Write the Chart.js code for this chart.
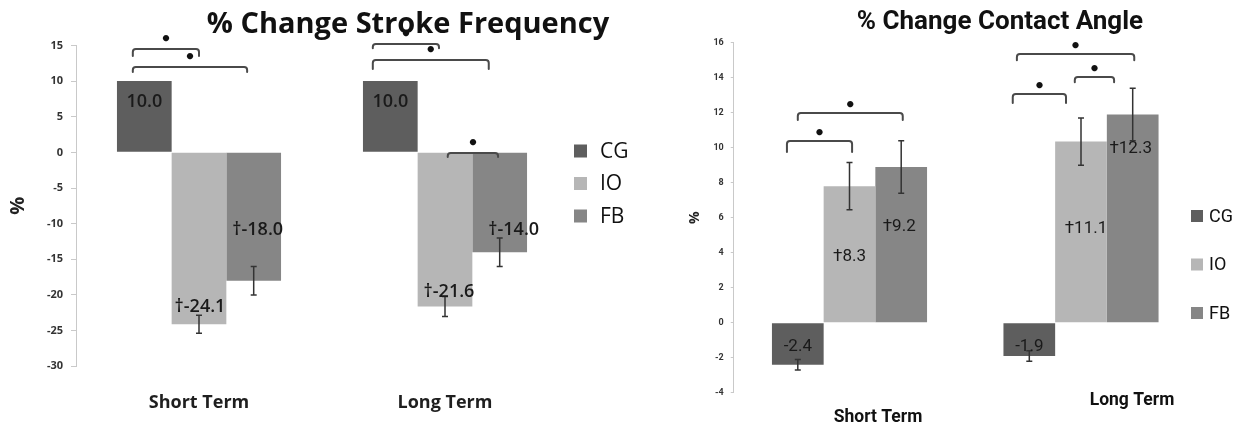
<!DOCTYPE html>
<html>
<head>
<meta charset="utf-8">
<title>% Change Stroke Frequency / % Change Contact Angle</title>
<script src="https://cdn.jsdelivr.net/npm/chart.js@4.4.1/dist/chart.umd.min.js"></script>
<style>
  html, body { margin: 0; padding: 0; background: #fff; }
  #wrap { position: relative; width: 1249px; height: 432px; overflow: hidden; }
  canvas { position: absolute; top: 0; }
  #strokeChart { left: 0; }
  #angleChart { left: 650px; }
</style>
</head>
<body>
<div id="wrap">
  <canvas id="strokeChart" width="650" height="432"></canvas>
  <canvas id="angleChart" width="599" height="432"></canvas>
</div>
<script>
var categories = ['Short Term', 'Long Term'];
var groups = ['CG', 'IO', 'FB'];
var groupColors = ['#5e5e5e', '#b6b6b6', '#868686'];

// % change stroke frequency
var strokeCG = [10.0, 10.0];
var strokeIO = [-24.1, -21.6];
var strokeFB = [-18.0, -14.0];
var strokeErrCG = [null, null];
var strokeErrIO = [1.25, 1.4];
var strokeErrFB = [2.0, 2.0];
var strokeTextCG = ['10.0', '10.0'];
var strokeTextIO = ['\u2020-24.1', '\u2020-21.6'];
var strokeTextFB = ['\u2020-18.0', '\u2020-14.0'];
// significant pairs: [category, group a, group b]
var strokeSig = [[0, 0, 1], [0, 0, 2], [1, 0, 1], [1, 0, 2], [1, 1, 2]];

// % change contact angle
var angleCG = [-2.4, -1.9];
var angleIO = [7.8, 10.35];
var angleFB = [8.9, 11.9];
var angleErrCG = [0.3, 0.3];
var angleErrIO = [1.35, 1.35];
var angleErrFB = [1.5, 1.5];
var angleTextCG = ['-2.4', '-1.9'];
var angleTextIO = ['\u20208.3', '\u202011.1'];
var angleTextFB = ['\u20209.2', '\u202012.3'];
var angleSig = [[0, 0, 1], [0, 0, 2], [1, 0, 1], [1, 1, 2], [1, 0, 2]];

Chart.defaults.font.family = "'Open Sans', sans-serif";

// draws error bars, value labels, significance brackets, title, legend
function makeDecorations(cfg) {
  return {
    id: 'decorations',
    afterDatasetsDraw: function (chart) {
      var ctx = chart.ctx;
      var y = chart.scales.y;
      ctx.save();

      // error bars
      ctx.strokeStyle = '#333';
      ctx.lineWidth = 1.5;
      chart.data.datasets.forEach(function (ds, i) {
        chart.getDatasetMeta(i).data.forEach(function (bar, j) {
          var err = ds.errors[j];
          if (err == null) return;
          var hi = y.getPixelForValue(ds.data[j] + err);
          var lo = y.getPixelForValue(ds.data[j] - err);
          ctx.beginPath();
          ctx.moveTo(bar.x, hi); ctx.lineTo(bar.x, lo);
          ctx.moveTo(bar.x - 3, hi); ctx.lineTo(bar.x + 3, hi);
          ctx.moveTo(bar.x - 3, lo); ctx.lineTo(bar.x + 3, lo);
          ctx.stroke();
        });
      });

      // value labels
      ctx.font = cfg.valueFont;
      ctx.fillStyle = '#1a1a1a';
      ctx.textAlign = 'center';
      ctx.textBaseline = 'middle';
      chart.data.datasets.forEach(function (ds, i) {
        chart.getDatasetMeta(i).data.forEach(function (bar, j) {
          ctx.fillText(ds.texts[j], bar.x + cfg.labelDx[i][j], y.getPixelForValue(cfg.labelAt[i][j]));
        });
      });

      // significance brackets
      var mid = chart.getDatasetMeta(1);
      ctx.strokeStyle = '#4a4a4a';
      ctx.lineWidth = 2;
      ctx.lineJoin = 'round';
      ctx.lineCap = 'round';
      cfg.sig.forEach(function (s, k) {
        var b = cfg.brackets[k];
        var bar = mid.data[s[0]];
        var x0 = bar.x + (b[0] - 1) * bar.width;
        var x1 = bar.x + (b[1] - 1) * bar.width;
        var top = y.getPixelForValue(b[2]);
        var end = y.getPixelForValue(b[2] - b[3]);
        ctx.beginPath();
        ctx.moveTo(x0, end);
        ctx.arcTo(x0, top, x1, top, 3);
        ctx.arcTo(x1, top, x1, end, 3);
        ctx.lineTo(x1, end);
        ctx.stroke();
        ctx.fillStyle = '#111';
        ctx.font = 'bold 18px DejaVu Sans';
        ctx.fillText('\u2022', (x0 + x1) / 2, top - cfg.starLift);
      });
      ctx.restore();
    },
    afterDraw: function (chart) {
      var ctx = chart.ctx;
      var area = chart.chartArea;
      ctx.save();
      // title
      ctx.font = cfg.titleFont;
      ctx.fillStyle = '#111';
      ctx.textAlign = 'center';
      ctx.textBaseline = 'alphabetic';
      ctx.fillText(cfg.title, cfg.titleX, cfg.titleBase);

      // legend
      ctx.font = cfg.legendFont;
      ctx.textAlign = 'left';
      ctx.textBaseline = 'middle';
      chart.data.datasets.forEach(function (ds, i) {
        var cy = cfg.legendTop + i * cfg.legendStep;
        ctx.fillStyle = ds.backgroundColor;
        ctx.fillRect(cfg.legendX, cy - cfg.legendBox / 2, cfg.legendBox, cfg.legendBox);
        ctx.fillStyle = '#111';
        ctx.fillText(ds.label, cfg.legendX + cfg.legendBox + cfg.legendGap, cy + 1);
      });

      // category labels placed off-centre (contact angle chart)
      if (cfg.catLabelShift) {
        ctx.font = cfg.catFont;
        ctx.textAlign = 'center';
        var mid = chart.getDatasetMeta(1);
        chart.data.labels.forEach(function (lab, j) {
          var sh = cfg.catLabelShift[j];
          ctx.fillText(lab, mid.data[j].x + sh[0], area.bottom + sh[1]);
        });
      }
      ctx.restore();
    }
  };
}

function buildChart(canvasId, cfg) {
  var datasets = groups.map(function (g, i) {
    return {
      label: g,
      data: cfg.values[i],
      errors: cfg.errors[i],
      texts: cfg.texts[i],
      backgroundColor: groupColors[i],
      borderWidth: 0,
      barPercentage: 1,
      categoryPercentage: cfg.catPct
    };
  });
  return new Chart(document.getElementById(canvasId), {
    type: 'bar',
    data: { labels: categories, datasets: datasets },
    options: {
      responsive: false,
      animation: false,
      events: [],
      layout: { padding: cfg.padding },
      plugins: {
        legend: { display: false },
        title: { display: false },
        tooltip: { enabled: false }
      },
      scales: {
        x: {
          grid: { display: false, drawTicks: false },
          border: { display: false },
          ticks: cfg.xTicks,
          afterFit: function (s) { s.height = cfg.xHeight; }
        },
        y: {
          min: cfg.yMin,
          max: cfg.yMax,
          ticks: { stepSize: cfg.yStep, font: cfg.yTickFont, color: '#333', padding: cfg.yTickPad },
          grid: { drawOnChartArea: false, drawTicks: true, tickLength: cfg.yTickLen, tickColor: '#c9c9c9' },
          border: { color: '#c9c9c9' },
          title: {
            display: true, text: '%', font: cfg.yTitleFont, color: '#222',
            padding: { top: cfg.yTitlePad, bottom: 0 }
          },
          afterFit: function (s) { s.width = cfg.yWidth; }
        }
      }
    },
    plugins: [makeDecorations(cfg)]
  });
}

buildChart('strokeChart', {
  values: [strokeCG, strokeIO, strokeFB],
  errors: [strokeErrCG, strokeErrIO, strokeErrFB],
  texts: [strokeTextCG, strokeTextIO, strokeTextFB],
  sig: strokeSig,
  brackets: [[-0.21, 1.0, 14.5, 1.0], [-0.21, 1.88, 11.96, 0.7], [-0.32, 0.89, 15.2, 0.6],
             [-0.32, 1.8, 12.95, 1.27], [1.05, 1.97, -0.1, 0.56]],
  starLift: 9,
  labelAt: [[7.05, 7.05], [-21.7, -19.6], [-10.9, -10.9]],
  labelDx: [[0, 0], [1, 4], [4, 14]],
  valueFont: "600 18px 'Open Sans'",
  catPct: 0.667,
  padding: { left: 0, top: 45.4, right: 82, bottom: 0 },
  yWidth: 76,
  xHeight: 65.7,
  yMin: -30, yMax: 15, yStep: 5,
  yTickFont: { size: 11, weight: 'bold' },
  yTickPad: 8, yTickLen: 5,
  yTitleFont: { size: 20, weight: 'bold' },
  yTitlePad: 6,
  xTicks: { font: { size: 18, weight: 'bold' }, color: '#1f1f1f', padding: 26 },
  title: '% Change Stroke Frequency',
  titleFont: "bold 29px 'Open Sans'",
  titleX: 408, titleBase: 33,
  legendFont: "21px 'Open Sans'",
  legendX: 574, legendBox: 13, legendGap: 13, legendTop: 151, legendStep: 32.5
});

buildChart('angleChart', {
  values: [angleCG, angleIO, angleFB],
  errors: [angleErrCG, angleErrIO, angleErrFB],
  texts: [angleTextCG, angleTextIO, angleTextFB],
  sig: angleSig,
  brackets: [[-0.21, 1.05, 10.38, 0.63], [0.0, 2.03, 11.98, 0.4], [-0.32, 0.71, 13.07, 0.52],
             [0.88, 1.64, 14.04, 0.3], [-0.24, 2.03, 15.35, 0.35]],
  starLift: 7,
  labelAt: [[-1.39, -1.39], [3.77, 5.35], [5.49, 9.93]],
  labelDx: [[0, 0], [0, 5], [-2, -2]],
  valueFont: "17px 'Roboto'",
  catPct: 0.67,
  padding: { left: 0, top: 42.7, right: 52.25, bottom: 0 },
  yWidth: 83.75,
  xHeight: 39.3,
  yMin: -4, yMax: 16, yStep: 2,
  yTickFont: { size: 9, weight: 'bold', family: 'Roboto' },
  yTickPad: 7, yTickLen: 3,
  yTitleFont: { size: 14, weight: 'bold' },
  yTitlePad: 37,
  xTicks: { display: false },
  catFont: "bold 17.5px 'Roboto'",
  catLabelShift: [[28.5, 25], [51, 7.5]],
  title: '% Change Contact Angle',
  titleFont: "bold 26px 'Roboto'",
  titleX: 350, titleBase: 29,
  legendFont: "18px 'Roboto'",
  legendX: 541, legendBox: 12, legendGap: 6, legendTop: 216, legendStep: 48.5
});
</script>
</body>
</html>
